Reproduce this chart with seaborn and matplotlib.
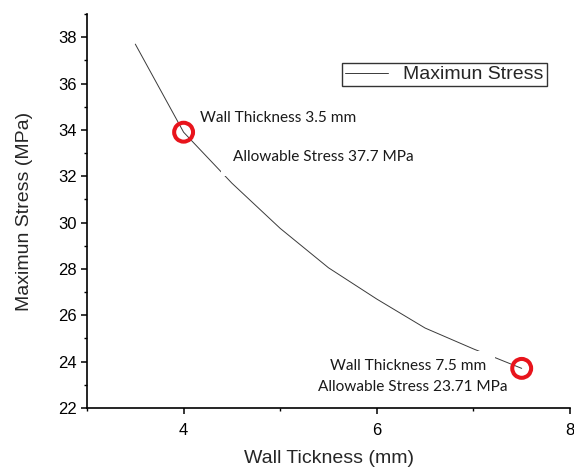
import matplotlib
matplotlib.use("Agg")
import matplotlib.pyplot as plt
import seaborn as sns
import pandas as pd
from matplotlib.ticker import MultipleLocator

# Data
wall_thickness = [3.5, 4.0, 4.5, 5.0, 5.5, 6.0, 6.5, 7.0, 7.5]
max_stress = [37.7, 33.9, 31.7, 29.75, 28.05, 26.7, 25.45, 24.55, 23.71]
highlight_x = [4.0, 7.5]
highlight_y = [33.9, 23.71]
x_label = "Wall Tickness (mm)"
y_label = "Maximun Stress (MPa)"
series_name = "Maximun Stress"
annotations = [
    ("Wall Thickness 3.5 mm", 4.17, 34.5),
    ("Allowable Stress 37.7 MPa", 4.51, 32.82),
    ("Wall Thickness 7.5 mm", 5.52, 23.81),
    ("Allowable Stress 23.71 MPa", 5.39, 22.9),
]

sns.set_style("ticks")
plt.rcParams["font.family"] = ["Liberation Sans", "DejaVu Sans"]

df = pd.DataFrame({"x": wall_thickness, "y": max_stress})

fig = plt.figure(figsize=(5.74, 4.68), dpi=100)
ax = fig.add_axes([87 / 574, 60 / 468, 483 / 574, 394 / 468])

sns.lineplot(data=df, x="x", y="y", ax=ax, color="#3a3a3a", linewidth=0.7,
             label=series_name, zorder=2)
ax.scatter(highlight_x, highlight_y, s=185, facecolors="none",
           edgecolors="#e8141c", linewidths=2.9, zorder=4)

for i, (txt, tx, ty) in enumerate(annotations):
    pad = 0.75 if i == 1 else 0.55
    ax.text(tx, ty, txt, fontsize=11.1, family=["Lato", "DejaVu Sans"], color="#1a1a1a",
            va="center", ha="left", zorder=3,
            bbox=dict(boxstyle=f"square,pad={pad}", facecolor="white", edgecolor="none"))

ax.set_xlim(3, 8)
ax.set_ylim(22, 39)
ax.set_xticks([4, 6, 8])
ax.set_xticks([3, 5, 7], minor=True)
ax.yaxis.set_major_locator(MultipleLocator(2))
ax.yaxis.set_minor_locator(MultipleLocator(1))

for s in ["top", "right"]:
    ax.spines[s].set_visible(False)
for s in ["left", "bottom"]:
    ax.spines[s].set_linewidth(1.2)
    ax.spines[s].set_color("black")

ax.tick_params(which="major", direction="out", length=4.5, width=1.1,
               labelsize=12, colors="black")
ax.tick_params(axis="x", which="major", pad=6)
ax.tick_params(axis="y", which="major", pad=3)
ax.tick_params(which="minor", direction="out", length=2.5, width=1.0, colors="black")

ax.set_xlabel(x_label, fontsize=14, labelpad=9)
ax.set_ylabel(y_label, fontsize=14, labelpad=18)

leg = ax.legend(loc="upper left", bbox_to_anchor=(0.528, 0.876), borderaxespad=0,
                fancybox=False, edgecolor="#333333", framealpha=1, fontsize=14,
                handlelength=2.2, borderpad=0.15, handletextpad=0.8)
leg.get_frame().set_linewidth(1.0)

fig.savefig("out.png", dpi=100)
